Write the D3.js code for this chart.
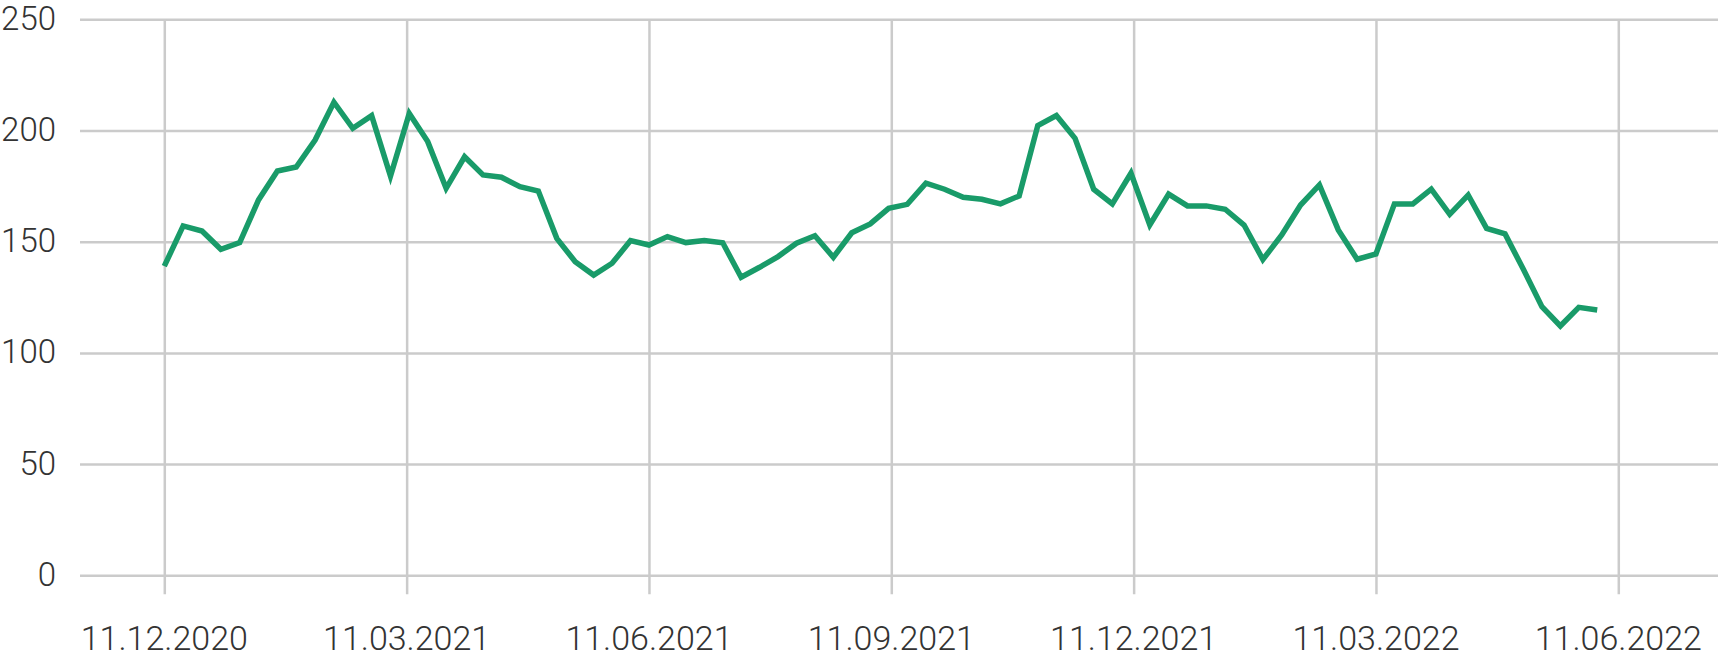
<!DOCTYPE html>
<html>
<head>
<meta charset="utf-8">
<script src="https://cdn.jsdelivr.net/npm/d3@7"></script>
<style>
  html, body { margin: 0; padding: 0; background: #fff; }
  svg { display: block; }
  text { font-family: Roboto, "Noto Sans", sans-serif; font-weight: 300; fill: #333; }
</style>
</head>
<body>
<svg id="chart" width="1718" height="658"></svg>
<script>
// ---- data ----
const dates = [
  "2020-12-11","2020-12-18","2020-12-25",
  "2021-01-01","2021-01-08","2021-01-15","2021-01-22","2021-01-29",
  "2021-02-05","2021-02-12","2021-02-19","2021-02-26",
  "2021-03-05","2021-03-12","2021-03-19","2021-03-26",
  "2021-04-02","2021-04-09","2021-04-16","2021-04-23","2021-04-30",
  "2021-05-07","2021-05-14","2021-05-21","2021-05-28",
  "2021-06-04","2021-06-11","2021-06-18","2021-06-25",
  "2021-07-02","2021-07-09","2021-07-16","2021-07-23","2021-07-30",
  "2021-08-06","2021-08-13","2021-08-20","2021-08-27",
  "2021-09-03","2021-09-10","2021-09-17","2021-09-24",
  "2021-10-01","2021-10-08","2021-10-15","2021-10-22","2021-10-29",
  "2021-11-05","2021-11-12","2021-11-19","2021-11-26",
  "2021-12-03","2021-12-10","2021-12-17","2021-12-24","2021-12-31",
  "2022-01-07","2022-01-14","2022-01-21","2022-01-28",
  "2022-02-04","2022-02-11","2022-02-18","2022-02-25",
  "2022-03-04","2022-03-11","2022-03-18","2022-03-25",
  "2022-04-01","2022-04-08","2022-04-15","2022-04-22","2022-04-29",
  "2022-05-06","2022-05-13","2022-05-20","2022-05-27",
  "2022-06-03"
];
const values = [
  139.0, 157.1, 154.8, 146.6, 149.6, 168.8, 181.8, 183.6, 195.7, 212.7,
  201.0, 206.7, 179.5, 207.7, 195.0, 174.0, 188.2, 180.0, 179.0, 174.7,
  172.8, 151.5, 141.0, 135.0, 140.3, 150.5, 148.5, 152.3, 149.6, 150.5,
  149.5, 134.0, 138.5, 143.3, 149.3, 152.7, 143.0, 154.0, 158.0, 165.0,
  166.8, 176.3, 173.6, 170.0, 169.1, 167.0, 170.6, 202.2, 206.7, 196.5,
  173.6, 167.0, 180.8, 157.5, 171.4, 166.1, 166.1, 164.6, 157.5, 142.0,
  153.0, 166.5, 175.5, 155.3, 142.1, 144.5, 167.0, 167.0, 173.6, 162.3,
  171.0, 156.0, 153.5, 137.5, 120.8, 112.1, 120.5, 119.3
];
const xTickDates = ["2020-12-11","2021-03-11","2021-06-11","2021-09-11","2021-12-11","2022-03-11","2022-06-11"];
const yTicks = [0, 50, 100, 150, 200, 250];

// ---- layout ----
const gridLeft = 80, gridRight = 1718;
const firstTickX = 164.3, lastTickX = 1618.3;
const parse = d3.utcParse("%Y-%m-%d");
const fmt = d3.utcFormat("%d.%m.%Y");

const tickDates = xTickDates.map(parse);
const step = (lastTickX - firstTickX) / (tickDates.length - 1);
// quarterly ticks are equally spaced (piecewise time scale)
const x = d3.scaleUtc()
  .domain(tickDates)
  .range(tickDates.map((d, i) => firstTickX + i * step));
const y = d3.scaleLinear().domain([0, 250]).range([575.3, 19.3]);

const svg = d3.select("#chart");
const gridColor = "#cbcbcb";

// horizontal gridlines
const yAxis = d3.axisLeft(y).tickValues(yTicks).tickSize(-(gridRight - gridLeft)).tickFormat("");
svg.append("g").attr("transform", `translate(${gridLeft},0)`).call(yAxis)
  .call(g => g.select(".domain").remove())
  .call(g => g.selectAll("line").attr("stroke", gridColor).attr("stroke-width", 2.5));

// vertical gridlines
const xAxis = d3.axisBottom(x).tickValues(tickDates).tickSize(-(594.3 - 19.3)).tickFormat("");
svg.append("g").attr("transform", `translate(0,594.3)`).call(xAxis)
  .call(g => g.select(".domain").remove())
  .call(g => g.selectAll("line").attr("stroke", gridColor).attr("stroke-width", 2.5));

// y labels
svg.append("g").selectAll("text").data(yTicks).join("text")
  .attr("x", 56).attr("y", d => y(d) - 1)
  .attr("text-anchor", "end").attr("dominant-baseline", "central")
  .attr("font-size", 33)
  .text(d => d);

// x labels
svg.append("g").selectAll("text").data(tickDates).join("text")
  .attr("x", d => x(d)).attr("y", 650)
  .attr("text-anchor", "middle")
  .attr("font-size", 34)
  .text(d => fmt(d));

// line
const data = dates.map((d, i) => ({ date: parse(d), v: values[i] }));
const line = d3.line().x(d => x(d.date)).y(d => y(d.v));
svg.append("path").datum(data)
  .attr("d", line)
  .attr("fill", "none")
  .attr("stroke", "#199b69")
  .attr("stroke-width", 5.5);
</script>
</body>
</html>
